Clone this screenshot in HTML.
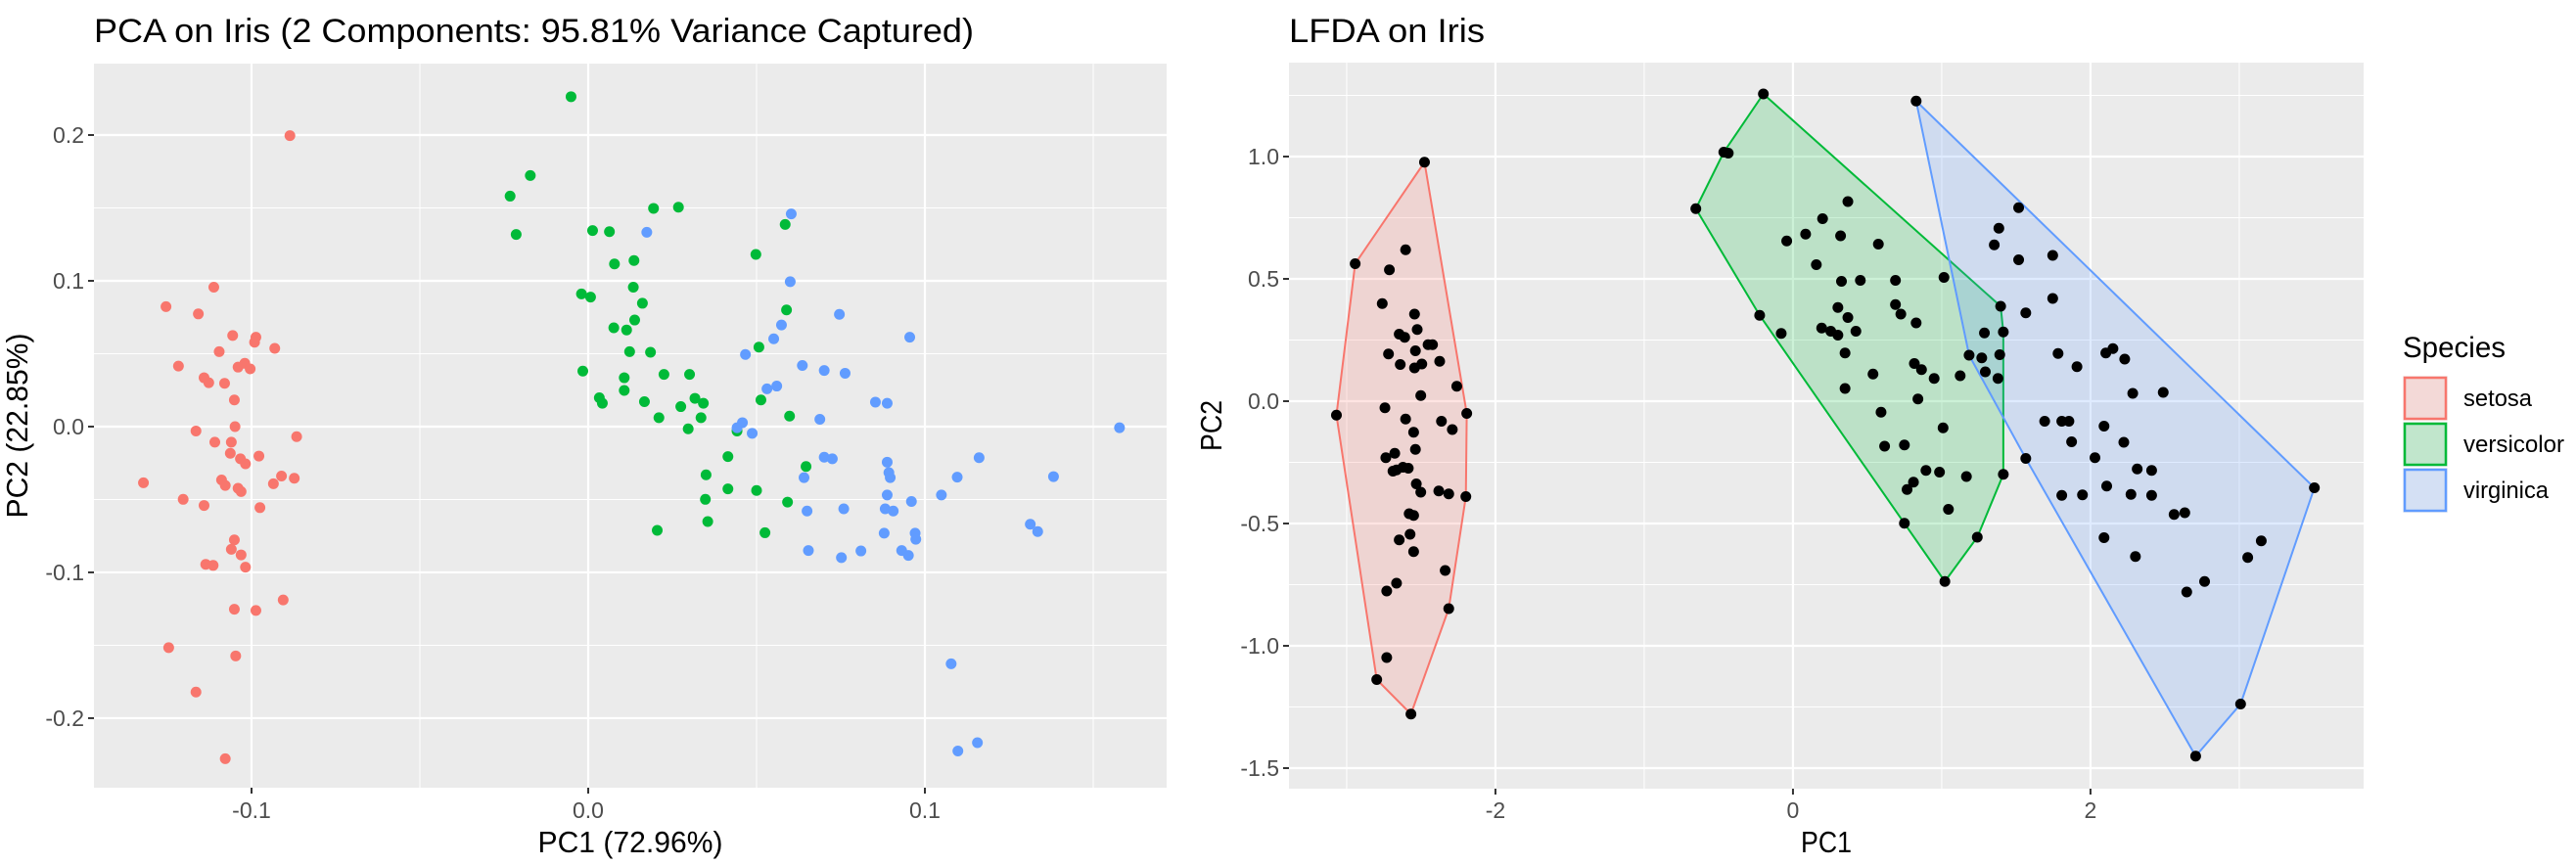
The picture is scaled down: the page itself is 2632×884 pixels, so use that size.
<!DOCTYPE html>
<html><head><meta charset="utf-8"><style>
body{margin:0;background:#fff;}
svg{display:block;font-family:"Liberation Sans",Arial,sans-serif;}
</style></head><body>
<svg id="chart" width="2632" height="884" viewBox="0 0 2632 884" xmlns="http://www.w3.org/2000/svg">
<rect width="2632" height="884" fill="#fff"/>
</svg>
<script>
// ---------- PCA data ----------
const pcaSetosaX=[-0.0886,-0.1112,-0.1254,-0.1158,-0.1056,-0.0987,-0.0991,-0.0931,-0.1096,-0.1217,-0.1040,-0.1020,-0.1004,-0.1141,-0.1127,-0.1080,-0.1051,-0.1049,-0.1165,-0.0866,-0.1109,-0.1060,-0.1063,-0.0978,-0.1033,-0.1018,-0.1321,-0.1203,-0.1089,-0.1078,-0.1040,-0.1031,-0.0911,-0.0935,-0.0873,-0.0975,-0.1141,-0.1051,-0.1060,-0.1031,-0.1136,-0.1114,-0.1018,-0.0906,-0.1051,-0.0987,-0.1246,-0.1047,-0.1165,-0.1078];
const pcaSetosaY=[0.1996,0.0956,0.0823,0.0773,0.0625,0.0613,0.0579,0.0537,0.0514,0.0415,0.0408,0.0434,0.0396,0.0335,0.0301,0.0297,0.0183,0,-0.0030,-0.0069,-0.0107,-0.0107,-0.0183,-0.0202,-0.0221,-0.0255,-0.0385,-0.0499,-0.0366,-0.0404,-0.0423,-0.0446,-0.0339,-0.0392,-0.0354,-0.0556,-0.0541,-0.0777,-0.0842,-0.0880,-0.0945,-0.0952,-0.0964,-0.1189,-0.1253,-0.1261,-0.1516,-0.1573,-0.1821,-0.2278];
const pcaVersX=[-0.0051,-0.0172,-0.0232,-0.0214,0.0013,0.0063,0.0194,0.0268,0.0585,0.0498,0.0078,0.0136,-0.0020,0.0007,0.0134,0.0161,0.0138,0.0076,0.0114,0.0589,0.0507,0.0123,0.0185,-0.0016,0.0225,0.0301,0.0107,0.0107,0.0033,0.0042,0.0167,0.0317,0.0342,0.0513,0.0275,0.0210,0.0335,0.0598,0.0297,0.0442,0.0415,0.0647,0.0350,0.0415,0.0500,0.0348,0.0592,0.0355,0.0205,0.0525];
const pcaVersY=[0.2263,0.1722,0.1581,0.1318,0.1345,0.1337,0.1497,0.1505,0.1387,0.1181,0.1116,0.1139,0.0910,0.0888,0.0956,0.0846,0.0731,0.0678,0.0663,0.0800,0.0545,0.0514,0.0510,0.0381,0.0358,0.0358,0.0335,0.0248,0.0198,0.0160,0.0171,0.0194,0.0160,0.0183,0.0137,0.0061,0.0061,0.0072,-0.0015,-0.0030,-0.0206,-0.0274,-0.0331,-0.0427,-0.0438,-0.0499,-0.0518,-0.0651,-0.0712,-0.0728];
const pcaVirgX=[0.0603,0.0174,0.0600,0.0746,0.0955,0.0574,0.0551,0.0467,0.0636,0.0701,0.0763,0.0531,0.0560,0.0853,0.0888,0.0688,0.0458,0.0442,0.0487,0.1578,0.0701,0.0725,0.1161,0.0888,0.0893,0.0897,0.0641,0.1096,0.1382,0.1049,0.0888,0.0960,0.0759,0.0882,0.0906,0.0650,0.1313,0.1335,0.0879,0.0971,0.0973,0.0654,0.0810,0.0931,0.0752,0.0951,0.1078,0.1098,0.1156];
const pcaVirgY=[0.1459,0.1333,0.0994,0.0770,0.0613,0.0697,0.0602,0.0495,0.0419,0.0385,0.0366,0.0259,0.0278,0.0168,0.0160,0.0050,0.0027,-0.0008,-0.0046,-0.0008,-0.0210,-0.0221,-0.0213,-0.0244,-0.0316,-0.0350,-0.0350,-0.0347,-0.0343,-0.0469,-0.0469,-0.0514,-0.0564,-0.0564,-0.0579,-0.0579,-0.0670,-0.0720,-0.0731,-0.0731,-0.0773,-0.0850,-0.0853,-0.0850,-0.0899,-0.0884,-0.1627,-0.2225,-0.2168];
const pcaXTicks=[-0.1,0.0,0.1];
const pcaXTickLabels=["-0.1","0.0","0.1"];
const pcaYTicks=[-0.2,-0.1,0.0,0.1,0.2];
const pcaYTickLabels=["-0.2","-0.1","0.0","0.1","0.2"];
// ---------- LFDA data ----------
const ldSetosaX=[-2.477,-2.943,-2.604,-2.713,-2.761,-2.544,-2.647,-2.610,-2.526,-2.453,-2.423,-2.719,-2.640,-2.538,-2.544,-2.495,-2.375,-2.260,-2.502,-2.743,-2.604,-3.069,-2.193,-2.363,-2.290,-2.550,-2.737,-2.677,-2.665,-2.586,-2.622,-2.538,-2.532,-2.502,-2.381,-2.314,-2.199,-2.580,-2.550,-2.647,-2.574,-2.550,-2.338,-2.665,-2.731,-2.314,-2.731,-2.798,-2.568,-2.689];
const ldSetosaY=[0.977,0.562,0.619,0.537,0.399,0.356,0.274,0.261,0.293,0.231,0.231,0.193,0.150,0.206,0.136,0.152,0.163,0.061,0.023,-0.027,-0.073,-0.057,-0.050,-0.082,-0.116,-0.127,-0.231,-0.213,-0.281,-0.274,-0.270,-0.197,-0.338,-0.372,-0.367,-0.379,-0.390,-0.460,-0.467,-0.567,-0.544,-0.615,-0.692,-0.744,-0.776,-0.848,-1.048,-1.138,-1.279,-0.286];
const ldVersX=[-0.199,-0.465,-0.435,-0.653,0.369,0.199,0.085,-0.042,0.320,0.574,0.157,0.326,0.453,0.689,1.015,0.302,0.369,0.689,0.725,0.828,-0.224,-0.079,0.193,0.254,0.302,0.423,1.396,1.414,1.287,0.350,1.390,1.269,0.816,0.864,0.949,1.124,1.293,0.538,1.378,0.350,0.840,0.592,1.009,0.616,0.749,1.414,0.894,0.985,1.166,0.810,0.767,1.045,0.749,1.239,1.021];
const ldVersY=[1.256,1.018,1.014,0.787,0.816,0.746,0.683,0.655,0.676,0.642,0.558,0.490,0.494,0.494,0.506,0.383,0.342,0.395,0.356,0.320,0.351,0.277,0.299,0.286,0.270,0.286,0.388,0.283,0.279,0.197,0.190,0.177,0.154,0.129,0.093,0.104,0.120,0.111,0.093,0.052,0.009,-0.045,-0.109,-0.184,-0.179,-0.299,-0.283,-0.290,-0.308,-0.331,-0.361,-0.442,-0.499,-0.556,-0.737];
const ldVirgX=[0.828,1.517,1.384,1.353,1.517,1.746,1.565,1.746,1.782,1.909,2.103,2.151,2.230,2.284,2.489,1.692,1.807,1.855,2.091,1.873,2.224,1.565,2.030,2.314,2.411,2.109,1.807,1.946,2.272,2.411,3.505,2.562,2.634,2.091,2.302,3.148,3.057,2.767,2.647,3.009,2.707,1.184];
const ldVirgY=[1.227,0.791,0.707,0.639,0.578,0.596,0.361,0.420,0.195,0.141,0.197,0.215,0.172,0.032,0.036,-0.082,-0.082,-0.082,-0.102,-0.166,-0.168,-0.234,-0.231,-0.277,-0.283,-0.347,-0.385,-0.383,-0.381,-0.385,-0.354,-0.463,-0.456,-0.558,-0.635,-0.571,-0.639,-0.737,-0.780,-1.238,-1.451,0.188];
const ldXTicks=[-2,0,2];
const ldXTickLabels=["-2","0","2"];
const ldYTicks=[-1.5,-1.0,-0.5,0.0,0.5,1.0];
const ldYTickLabels=["-1.5","-1.0","-0.5","0.0","0.5","1.0"];
const speciesNames=["setosa","versicolor","virginica"];
const speciesColors=["#F8766D","#00BA38","#619CFF"];

const NS="http://www.w3.org/2000/svg";
const svg=document.getElementById('chart');
function mk(tag,attrs,parent){const e=document.createElementNS(NS,tag);for(const k in attrs)e.setAttribute(k,attrs[k]);(parent||svg).appendChild(e);return e;}

function panel(cfg){
  const g=mk('g',{});
  
  
  const sx=v=>cfg.x0+(v-cfg.xmin)/(cfg.xmax-cfg.xmin)*(cfg.x1-cfg.x0);
  const sy=v=>cfg.y1-(v-cfg.ymin)/(cfg.ymax-cfg.ymin)*(cfg.y1-cfg.y0);
  const bg=mk('rect',{x:cfg.x0,y:cfg.y0,width:cfg.x1-cfg.x0,height:cfg.y1-cfg.y0,fill:'#EBEBEB'},g);
  
  
  cfg.xMinor.forEach(v=>{if(v>cfg.xmin&&v<cfg.xmax){const l=mk('line',{x1:sx(v),x2:sx(v),y1:cfg.y0,y2:cfg.y1,stroke:'#fff','stroke-width':1},g);}});
  cfg.yMinor.forEach(v=>{if(v>cfg.ymin&&v<cfg.ymax){const l=mk('line',{y1:sy(v),y2:sy(v),x1:cfg.x0,x2:cfg.x1,stroke:'#fff','stroke-width':1},g);}});
  cfg.xTicks.forEach((v,i)=>{
    const l=mk('line',{x1:sx(v),x2:sx(v),y1:cfg.y0,y2:cfg.y1,stroke:'#fff','stroke-width':2.2},g);
    
    const t=mk('line',{x1:sx(v),x2:sx(v),y1:cfg.y1,y2:cfg.y1+6,stroke:'#333','stroke-width':2},g);
    
    const tx=mk('text',{x:sx(v),y:836,'text-anchor':'middle','font-size':23,fill:'#4D4D4D'},g);
    tx.textContent=cfg.xTickLabels[i];
    
  });
  cfg.yTicks.forEach((v,i)=>{
    const l=mk('line',{y1:sy(v),y2:sy(v),x1:cfg.x0,x2:cfg.x1,stroke:'#fff','stroke-width':2.2},g);
    
    const t=mk('line',{y1:sy(v),y2:sy(v),x1:cfg.x0-6,x2:cfg.x0,stroke:'#333','stroke-width':2},g);
    
    const tx=mk('text',{x:cfg.x0-10,y:sy(v)+8,'text-anchor':'end','font-size':23,fill:'#4D4D4D'},g);
    tx.textContent=cfg.yTickLabels[i];
    
  });
  if(cfg.hull){
    cfg.series.forEach((s,k)=>{
      const pts=s.x.map((v,i)=>[sx(v),sy(s.y[i])]);
      const h=convexHull(pts);
      const p=mk('polygon',{points:h.map(q=>q.join(',')).join(' '),fill:speciesColors[k],'fill-opacity':0.2,stroke:speciesColors[k],'stroke-width':2},g);
      
      
    });
  }
  cfg.series.forEach((s,k)=>{
    s.x.forEach((v,i)=>{
      const c=mk('circle',{cx:sx(v),cy:sy(s.y[i]),r:5.5,fill:cfg.hull?'#000':speciesColors[k]},g);
      
      
    });
  });
  const title=mk('text',{x:cfg.x0,y:43,'font-size':34,fill:'#000',textLength:cfg.titleLen,lengthAdjust:'spacingAndGlyphs'},g);
  title.textContent=cfg.title;
  
  const xt=mk('text',{x:(cfg.x0+cfg.x1)/2,y:871,'text-anchor':'middle','font-size':31,fill:'#000',textLength:cfg.xTitleLen,lengthAdjust:'spacingAndGlyphs'},g);
  xt.textContent=cfg.xTitle;
  
  const yc=(cfg.y0+cfg.y1)/2;
  const yt=mk('text',{x:cfg.yTitleX,y:yc,'text-anchor':'middle','font-size':31,fill:'#000',textLength:cfg.yTitleLen,lengthAdjust:'spacingAndGlyphs',transform:`rotate(-90 ${cfg.yTitleX} ${yc})`},g);
  yt.textContent=cfg.yTitle;
  
}
function convexHull(p){
  p=p.slice().sort((a,b)=>a[0]-b[0]||a[1]-b[1]);
  const cr=(o,a,b)=>(a[0]-o[0])*(b[1]-o[1])-(a[1]-o[1])*(b[0]-o[0]);
  const lo=[],up=[];
  for(const q of p){while(lo.length>=2&&cr(lo[lo.length-2],lo[lo.length-1],q)<=0)lo.pop();lo.push(q);}
  for(let i=p.length-1;i>=0;i--){const q=p[i];while(up.length>=2&&cr(up[up.length-2],up[up.length-1],q)<=0)up.pop();up.push(q);}
  up.pop();lo.pop();return lo.concat(up);
}
panel({name:'pca-panel',x0:96,x1:1192,y0:65,y1:805,xmin:-0.1468,xmax:0.1718,ymin:-0.2477,ymax:0.249,
  xTicks:pcaXTicks,xTickLabels:pcaXTickLabels,yTicks:pcaYTicks,yTickLabels:pcaYTickLabels,
  xMinor:[-0.15,-0.05,0.05,0.15],yMinor:[-0.25,-0.15,-0.05,0.05,0.15],
  series:[{x:pcaSetosaX,y:pcaSetosaY},{x:pcaVersX,y:pcaVersY},{x:pcaVirgX,y:pcaVirgY}],hull:false,
  title:'PCA on Iris (2 Components: 95.81% Variance Captured)',titleLen:899,xTitle:'PC1 (72.96%)',xTitleLen:189,yTitle:'PC2 (22.85%)',yTitleLen:189,yTitleX:28});
panel({name:'lfda-panel',x0:1317,x1:2415,y0:64,y1:806,xmin:-3.388,xmax:3.836,ymin:-1.584,ymax:1.384,
  xTicks:ldXTicks,xTickLabels:ldXTickLabels,yTicks:ldYTicks,yTickLabels:ldYTickLabels,
  xMinor:[-3,-1,1,3],yMinor:[-1.25,-0.75,-0.25,0.25,0.75,1.25],
  series:[{x:ldSetosaX,y:ldSetosaY},{x:ldVersX,y:ldVersY},{x:ldVirgX,y:ldVirgY}],hull:true,
  title:'LFDA on Iris',titleLen:200,xTitle:'PC1',xTitleLen:52,yTitle:'PC2',yTitleLen:52,yTitleX:1248});
// legend
const lg=mk('g',{});


const lt=mk('text',{x:2455,y:365,'font-size':30,fill:'#000',textLength:105,lengthAdjust:'spacingAndGlyphs'},lg);
lt.textContent='Species';

const legendLens=[70,103,87];
speciesNames.forEach((n,k)=>{
  const y=384+k*47;
  const bgk=mk('rect',{x:2455,y:y,width:46,height:46,fill:'#F2F2F2'},lg);
  
  const r=mk('rect',{x:2457,y:y+2,width:42,height:42,fill:speciesColors[k],'fill-opacity':0.2,stroke:speciesColors[k],'stroke-width':2.5},lg);
  
  const t=mk('text',{x:2517,y:y+31,'font-size':24,fill:'#000',textLength:legendLens[k],lengthAdjust:'spacingAndGlyphs'},lg);
  t.textContent=n;
  
});
</script>
</body></html>
